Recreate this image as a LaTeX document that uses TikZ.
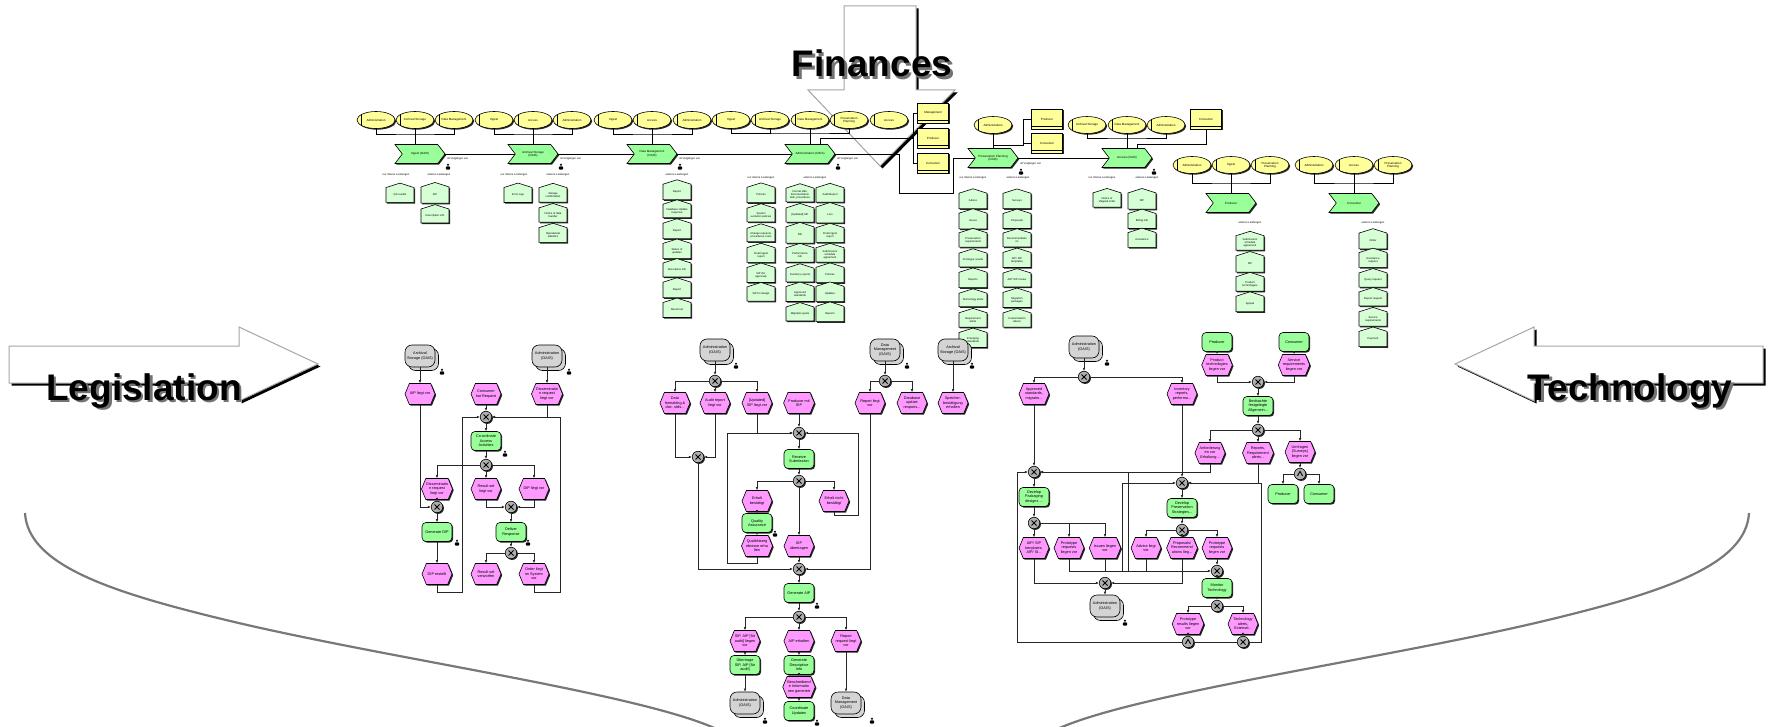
\documentclass[tikz,border=0pt]{standalone}
\usepackage{fontspec}
\setmainfont{Liberation Sans}
\usetikzlibrary{shapes.geometric,shapes.symbols,shadows,arrows.meta,calc}
\definecolor{ouY}{RGB}{255,255,153}
\definecolor{vcG}{RGB}{153,255,153}
\definecolor{outG}{RGB}{214,255,214}
\definecolor{evP}{RGB}{255,153,255}
\definecolor{orgG}{RGB}{212,212,212}
\definecolor{xorG}{RGB}{175,175,175}
\definecolor{arG}{RGB}{165,165,165}
\definecolor{crv}{RGB}{120,120,120}
\newcommand\fva{\fontsize{3}{3.5}\selectfont}
\newcommand\fvb{\fontsize{2.7}{3.1}\selectfont}
\newcommand\fep{\fontsize{3.8}{4.4}\selectfont}
\newcommand\fti{\fontsize{37}{40}\selectfont\bfseries}
\tikzset{
  sh/.style={drop shadow={shadow xshift=1.2pt,shadow yshift=-1.2pt,fill=black,opacity=0.85}},
  ou/.style={ellipse,draw,line width=0.6pt,fill=ouY,sh,minimum width=38pt,minimum height=17pt,inner sep=0pt,font=\fva,align=center,
    path picture={\draw[line width=0.5pt] ([xshift=4.5pt]path picture bounding box.north west) -- ([xshift=4.5pt]path picture bounding box.south west);}},
  vc/.style={signal,signal to=east,signal from=west,signal pointer angle=105,draw,line width=0.6pt,fill=vcG,sh,minimum width=50pt,minimum height=19pt,inner sep=0.5pt,font=\fva,align=center},
  ybox/.style={rectangle,draw,line width=0.6pt,fill=ouY,sh,minimum width=31pt,minimum height=20pt,inner sep=0.5pt,font=\fva,align=center,
    path picture={\draw[line width=0.5pt] ([yshift=2.5pt]path picture bounding box.south west) -- ([yshift=2.5pt]path picture bounding box.south east);}},
  outb/.style={signal,signal to=north,signal pointer angle=145,draw,line width=0.6pt,fill=outG,sh,minimum width=28pt,minimum height=17pt,inner sep=0.4pt,font=\fvb,align=center},
  lab/.style={font=\fvb,inner sep=0pt},
  ev/.style={signal,signal to=east and west,signal pointer angle=135,draw,line width=0.6pt,fill=evP,sh,minimum width=30pt,minimum height=21pt,inner sep=0.3pt,font=\fep,align=center},
  fn/.style={rectangle,rounded corners=4pt,draw,line width=0.6pt,fill=vcG,sh,minimum width=30pt,minimum height=19pt,inner sep=0.3pt,font=\fep,align=center},
  org/.style={rectangle,rounded corners=7pt,draw,line width=0.6pt,fill=orgG,copy shadow={shadow xshift=3.5pt,shadow yshift=-3.5pt,draw=black,fill=orgG,line width=0.6pt},minimum width=30pt,minimum height=22pt,inner sep=0.3pt,font=\fep,align=center},
  xor/.style={circle,draw,line width=0.6pt,fill=xorG,sh,minimum size=11.5pt,inner sep=0pt,
    path picture={\draw[line width=0.9pt] ([shift={(-2.5pt,-2.5pt)}]path picture bounding box.center) -- ([shift={(2.5pt,2.5pt)}]path picture bounding box.center) ([shift={(-2.5pt,2.5pt)}]path picture bounding box.center) -- ([shift={(2.5pt,-2.5pt)}]path picture bounding box.center);}},
  andn/.style={circle,draw,line width=0.6pt,fill=xorG,sh,minimum size=11.5pt,inner sep=0pt,
    path picture={\draw[line width=0.9pt] ([shift={(-2.6pt,-2pt)}]path picture bounding box.center) -- ([shift={(0pt,2.6pt)}]path picture bounding box.center) -- ([shift={(2.6pt,-2pt)}]path picture bounding box.center);}},
  vl/.style={draw=black,line width=0.9pt},
  el/.style={draw=black!85,line width=0.7pt},
  ea/.style={el,-{Latex[length=3pt,width=2.6pt]}},
  pers/.pic={\fill[black] (0,-2.2) circle (1.1pt); \fill[black,rounded corners=0.8pt] (-2.1,2.6) -- (-2.1,-0.6) -- (2.1,-0.6) -- (2.1,2.6) -- cycle;},
}
\begin{document}
\begin{tikzpicture}[x=1pt,y=-1pt]
\useasboundingbox (0,0) rectangle (1769,727);
% ---------- big arrows ----------
\begin{scope}[shift={(2.5,2.5)}]
\fill[black] (9,346) -- (239,346) -- (239,327) -- (318,364) -- (239,401) -- (239,383) -- (9,383) -- cycle;
\fill[black] (1763,346) -- (1534,346) -- (1534,327) -- (1455,364) -- (1534,401) -- (1534,383) -- (1763,383) -- cycle;
\fill[black] (844,6) -- (916,6) -- (916,90) -- (955,90) -- (880,166) -- (808,90) -- (844,90) -- cycle;
\end{scope}
\path[draw=arG,fill=white,line width=1pt] (9,346) -- (239,346) -- (239,327) -- (318,364) -- (239,401) -- (239,383) -- (9,383) -- cycle;
\path[draw=arG,fill=white,line width=1pt] (1763,346) -- (1534,346) -- (1534,327) -- (1455,364) -- (1534,401) -- (1534,383) -- (1763,383) -- cycle;
\path[draw=arG,fill=white,line width=1pt] (844,6) -- (916,6) -- (916,90) -- (955,90) -- (880,166) -- (808,90) -- (844,90) -- cycle;
% ---------- curves ----------
\draw[crv,line width=2.2pt] (25,513) .. controls (28,565) and (110,592) .. (226,620) .. controls (400,662) and (690,700) .. (735,740);
\draw[crv,line width=2.2pt] (1749,513) .. controls (1746,565) and (1664,592) .. (1548,620) .. controls (1374,662) and (1084,700) .. (1039,740);

% ---------- value chain ----------
\node[ou] (e11) at (376,120) {Administration};
\node[ou] (e12) at (415,120) {Archival Storage};
\node[ou] (e13) at (454,120) {Data Management};
\node[ou] (e21) at (494,120) {Ingest};
\node[ou] (e22) at (533,120) {Access};
\node[ou] (e23) at (572,120) {Administration};
\node[ou] (e31) at (613,120) {Ingest};
\node[ou] (e32) at (652,120) {Access};
\node[ou] (e33) at (692,120) {Administration};
\node[ou] (e41) at (731,120) {Ingest};
\node[ou] (e42) at (770,120) {Archival Storage};
\node[ou] (e43) at (810,120) {Data Management};
\node[ou] (e44) at (849,120) {Preservation\\Planning};
\node[ou] (e45) at (889,120) {Access};
\node[ybox] (b41) at (933,113) {Management};
\node[ybox] (b42) at (933,138) {Producer};
\node[ybox] (b43) at (933,163) {Consumer};
\node[ou] (e51) at (993,125) {Administration};
\node[ybox] (b51) at (1047,119) {Producer};
\node[ybox] (b52) at (1047,143) {Consumer};
\node[ou] (e61) at (1087,125) {Archival Storage};
\node[ou] (e62) at (1127,125) {Data Management};
\node[ou] (e63) at (1166,125) {Administration};
\node[ybox] (b61) at (1206,119) {Consumer};
\node[ou] (e71) at (1192,165) {Administration};
\node[ou] (e72) at (1231,165) {Ingest};
\node[ou] (e73) at (1270,165) {Preservation\\Planning};
\node[ou] (e81) at (1314,165) {Administration};
\node[ou] (e82) at (1354,165) {Access};
\node[ou] (e83) at (1393,165) {Preservation\\Planning};

\node[vc] (f1) at (420,154) {Ingest (OAIS)};
\node[vc] (f2) at (533,154) {Archival Storage\\(OAIS)};
\node[vc] (f3) at (652,154) {Data Management\\(OAIS)};
\node[vc] (f4) at (810,154) {Administration (OAIS)};
\node[vc] (f5) at (993,158) {Preservation Planning\\(OAIS)};
\node[vc] (f6) at (1127,158) {Access (OAIS)};
\node[vc] (f7) at (1231,203) {Producer};
\node[vc] (f8) at (1354,203) {Consumer};

\coordinate (g1b) at (415,134);
\coordinate (g2b) at (533,134);
\coordinate (g3b) at (652,134);
\coordinate (g4b) at (810,133);
\coordinate (g6b) at (1127,138);
\coordinate (g7b) at (1231,183);
\coordinate (g8b) at (1354,183);
\draw[vl] (e11.south) |- (g1b) -| (e13.south);
\draw[vl] (e12.south) -- (e12.south |- f1.north);
\draw[vl] (e21.south) |- (g2b) -| (e23.south);
\draw[vl] (e22.south) -- (f2.north);
\draw[vl] (e31.south) |- (g3b) -| (e33.south);
\draw[vl] (e32.south) -- (f3.north);
\draw[vl] (e41.south) |- (g4b) -| (e44.south);
\draw[vl] (e42.south) -- (e42.south |- g4b);
\draw[vl] (e43.south) -- (f4.north);
\draw[vl] ([xshift=10pt]f4.north) |- (913,138);
\draw[vl] (b41.west) -- (913,113) -- (913,163) -- (b43.west);
\draw[vl] (e51.south) -- (f5.north);
\draw[vl] (993,145) -- (1023,145) |- (b51.west);
\draw[vl] (1023,143) -- (b52.west);
\draw[vl] (e61.south) |- (g6b) -| (e63.south);
\draw[vl] (e62.south) -- (f6.north);
\draw[vl] (b61.south) |- (1137,144) -- (1137,148.5);
\draw[vl] (e71.south) |- (g7b) -| (e73.south);
\draw[vl] (e72.south) -- (f7.north);
\draw[vl] (e81.south) |- (g8b) -| (e83.south);
\draw[vl] (e82.south) -- (f8.north);
\draw[vl] (f1.east) -- (f2.west);
\draw[vl] (f2.east) -- (f3.west);
\draw[vl] (f3.east) -- (f4.west);
\draw[vl] (f4.east) -- (899,154) -- (899,193) -- (953,193) -- (953,158) -- (f5.west);
\draw[vl] (f5.east) -- (f6.west);

\node[lab,anchor=west] (p1) at (447,158.5) {ist Vorgänger von};
\node[lab,anchor=west] (p2) at (560,158.5) {ist Vorgänger von};
\node[lab,anchor=west] (p3) at (679,158.5) {ist Vorgänger von};
\node[lab,anchor=west] (p4) at (837,158.5) {ist Vorgänger von};
\node[lab,anchor=west] (p5) at (1020,163.5) {ist Vorgänger von};
\pic at (448,167) {pers};
\pic at (561,167) {pers};
\pic at (680,167) {pers};
\pic at (838,167) {pers};
\pic at (1021,172) {pers};
\pic at (1154,172) {pers};

\node[lab] (l1a) at (396,175) {nur interne Leistungen};
\node[lab] (l1b) at (439,175) {externe Leistungen};
\node[lab] (l2a) at (514,175) {nur interne Leistungen};
\node[lab] (l2b) at (558,175) {externe Leistungen};
\node[lab] (l3b) at (677,175) {externe Leistungen};
\node[lab] (l4a) at (761,178) {nur interne Leistungen};
\node[lab] (l4b) at (815,178) {externe Leistungen};
\node[lab] (l5a) at (973,178) {nur interne Leistungen};
\node[lab] (l5b) at (1018,178) {externe Leistungen};
\node[lab] (l6a) at (1102,178) {nur interne Leistungen};
\node[lab] (l6b) at (1147,178) {externe Leistungen};
\node[lab] (l7b) at (1250,223) {externe Leistungen};
\node[lab] (l8b) at (1373,223) {externe Leistungen};

% outputs
\node[outb] (q11) at (400,195) {QA results};
\node[outb] (q12) at (435,195) {AIP};
\node[outb] (q13) at (435,216) {Description info};
\node[outb] (q21) at (518,195) {Error logs};
\node[outb] (q22) at (553,195) {Storage\\confirmation};
\node[outb] (q23) at (553,215) {Notice of data\\transfer};
\node[outb] (q24) at (553,235) {Operational\\statistics};
\node[outb] (q31) at (677,192) {Report};
\node[outb] (q32) at (677,211) {Database Update\\response};
\node[outb] (q33) at (677,231) {Report};
\node[outb] (q34) at (677,251) {Status of\\updates};
\node[outb] (q35) at (677,270) {Descriptive info};
\node[outb] (q36) at (677,290) {Report};
\node[outb] (q37) at (677,310) {Result set};
\node[outb] (q41) at (761,195) {Policies};
\node[outb] (q42) at (761,215) {System\\evolution policies};
\node[outb] (q43) at (761,235) {Change requests,\\procedures, tools};
\node[outb] (q44) at (761,255) {Final Ingest\\report};
\node[outb] (q45) at (761,275) {SIP (for\\approval)};
\node[outb] (q46) at (761,294) {SIP for design};
\node[outb] (q4a1) at (800,195) {Format stds,\\Documentation\\stds, procedures};
\node[outb] (q4a2) at (800,215) {[Updated] SIP};
\node[outb] (q4a3) at (800,235) {Bill};
\node[outb] (q4a4) at (800,255) {Performance\\info};
\node[outb] (q4a5) at (800,275) {Inventory reports};
\node[outb] (q4a6) at (800,294) {Approved\\standards};
\node[outb] (q4a7) at (800,314) {Migration goals};
\node[outb] (q4b1) at (830,195) {Audit Report};
\node[outb] (q4b2) at (830,215) {Lien};
\node[outb] (q4b3) at (830,235) {Final Ingest\\report};
\node[outb] (q4b4) at (830,255) {Submission/\\schedule\\agreement};
\node[outb] (q4b5) at (830,275) {Policies};
\node[outb] (q4b6) at (830,294) {Updates};
\node[outb] (q4b7) at (830,314) {Reports};
\node[outb] (q51) at (973,201) {Advice};
\node[outb] (q52) at (973,221) {Issues};
\node[outb] (q53) at (973,240) {Preservation\\requirements};
\node[outb] (q54) at (973,260) {Prototype results};
\node[outb] (q55) at (973,280) {Reports};
\node[outb] (q56) at (973,300) {Technology alerts};
\node[outb] (q57) at (973,320) {Requirement\\alerts};
\node[outb] (q58) at (973,340) {Emerging\\standards};
\node[outb] (q5b1) at (1017,201) {Surveys};
\node[outb] (q5b2) at (1017,221) {Proposals};
\node[outb] (q5b3) at (1017,240) {Recommendatio\\ns};
\node[outb] (q5b4) at (1017,260) {AIP/ SIP\\templates};
\node[outb] (q5b5) at (1017,280) {AIP/ SIP review};
\node[outb] (q5b6) at (1017,300) {Migration\\packages};
\node[outb] (q5b7) at (1017,320) {Customization\\advice};
\node[outb] (q61) at (1107,200) {Notice of\\shipped order};
\node[outb] (q62) at (1142,201) {DIP};
\node[outb] (q63) at (1142,221) {Billing info};
\node[outb] (q64) at (1142,240) {Assistance};
\node[outb] (q71) at (1250,243) {Submission/\\schedule\\agreement};
\node[outb] (q72) at (1250,264) {SIP};
\node[outb] (q73) at (1250,284) {Product\\technologies};
\node[outb] (q74) at (1250,304) {Appeal};
\node[outb] (q81) at (1373,241) {Order};
\node[outb] (q82) at (1373,260) {Assistance\\request};
\node[outb] (q83) at (1373,280) {Query request};
\node[outb] (q84) at (1373,299) {Report request};
\node[outb] (q85) at (1373,319) {Service\\requirements};
\node[outb] (q86) at (1373,339) {Payment};

% ---------- EPC 1 ----------
\node[org] (o11) at (420,356) {Archival\\Storage (OAIS)};
\node[org] (o12) at (547,356) {Administration\\(OAIS)};
\node[ev] (ev11) at (420,394) {AIP liegt vor};
\node[ev] (ev12) at (486,394) {Consumer\\hat Request};
\node[ev] (ev13) at (547,394) {Disseminatio\\n request\\liegt vor};
\node[xor] (x11) at (486,417) {};
\node[fn] (fn11) at (486,441) {Co-ordinate\\Access\\Activities};
\node[xor] (x12) at (486,465) {};
\node[ev] (ev14) at (437,489) {Disseminatio\\n request\\liegt vor};
\node[ev] (ev15) at (486,489) {Result set\\liegt vor};
\node[ev] (ev16) at (534,489) {DIP liegt vor};
\node[xor] (x13) at (437,507) {};
\node[xor] (x14) at (511,507) {};
\node[fn] (fn12) at (437,532) {Generate DIP};
\node[fn] (fn13) at (511,532) {Deliver\\Response};
\node[xor] (x15) at (511,553) {};
\node[ev] (ev17) at (437,574) {DIP erstellt};
\node[ev] (ev18) at (486,574) {Result set\\verworfen};
\node[ev] (ev19) at (534,574) {Order liegt\\im System\\vor};
\draw[ea] (o11.south) -- (ev11.north);
\draw[ea] (o12.south) -- (ev13.north);
\draw[ea] (ev11.south) |- (x13.west);
\draw[ea] (ev12.south) -- (x11.north);
\draw[ea] (ev13.south) |- (x11.east);
\draw[ea] (x11.south) -- (fn11.north);
\draw[ea] (fn11.south) -- (x12.north);
\draw[ea] (x12.west) -| (ev14.north);
\draw[ea] (x12.south) -- (ev15.north);
\draw[ea] (x12.east) -| (ev16.north);
\draw[ea] (ev14.south) -- (x13.north);
\draw[ea] (x13.south) -- (fn12.north);
\draw[ea] (fn12.south) -- (ev17.north);
\draw[ea] (ev15.south) |- (x14.west);
\draw[ea] (ev16.south) |- (x14.east);
\draw[ea] (x14.south) -- (fn13.north);
\draw[ea] (fn13.south) -- (x15.north);
\draw[ea] (x15.west) -| (ev18.north);
\draw[ea] (x15.east) -| (ev19.north);
\draw[ea] (ev17.south) -- (437,592) -- (462,592) |- (x11.west);
\draw[ea] (ev19.south) -- (534,592) -- (560,592) |- (x11.east);
\pic at (442,372) {pers};
\pic at (569,372) {pers};
\pic at (505,454) {pers};
\pic at (457,543) {pers};
\pic at (528,543) {pers};

% ---------- EPC 2 ----------
\node[org] (o21) at (715,350) {Administration\\(OAIS)};
\node[xor] (x21) at (715,381) {};
\node[ev] (ev21) at (675,403) {Data\\formatting \&\\doc. stds...};
\node[ev] (ev22) at (715,403) {Audit report\\liegt vor};
\node[ev] (ev23) at (757,403) {[Updated]\\SIP liegt vor};
\node[ev] (ev24) at (799,403) {Producer mit\\SIP};
\node[xor] (x22) at (698,457) {};
\node[xor] (x23) at (799,433) {};
\node[fn] (fn21) at (799,459) {Receive\\Submission};
\node[xor] (x24) at (799,481) {};
\node[ev] (ev25) at (757,501) {Erhalt\\bestätigt};
\node[ev] (ev26) at (834,501) {Erhalt nicht\\bestätigt};
\node[fn] (fn22) at (757,523) {Quality\\Assurance};
\node[ev] (ev27) at (757,546) {Qualitätserg\\ebnisse erha\\lten};
\node[ev] (ev28) at (799,546) {SIP\\übertragen};
\node[xor] (x25) at (799,569) {};
\node[fn] (fn23) at (799,593) {Generate AIP};
\node[xor] (x26) at (799,617) {};
\node[ev] (ev29) at (745,641) {SIP, AIP [für\\audit] liegen\\vor};
\node[ev] (ev2a) at (799,641) {AIP erhalten};
\node[ev] (ev2b) at (846,641) {Report\\request liegt\\vor};
\node[fn] (fn24) at (745,665) {Übertrage\\SIP, AIP [für\\audit]};
\node[fn] (fn25) at (799,665) {Generate\\Descriptive\\Info};
\node[ev] (ev2c) at (799,687) {Beschreibend\\e Informatio\\nen generiert};
\node[fn] (fn26) at (799,711) {Coordinate\\Updates};
\node[org] (o22) at (745,703) {Administration\\(OAIS)};
\node[org] (o23) at (846,703) {Data\\Management\\(OAIS)};
\node[org] (o24) at (885,350) {Data\\Management\\(OAIS)};
\node[xor] (x27) at (885,381) {};
\node[ev] (ev2d) at (870,403) {Report liegt\\vor};
\node[ev] (ev2e) at (912,403) {Database\\update\\respons...};
\node[org] (o25) at (953,350) {Archival\\Storage (OAIS)};
\node[ev] (ev2f) at (953,403) {Speicher-\\bestätigung\\erhalten};
\draw[ea] (o21.south) -- (x21.north);
\draw[ea] (x21.west) -| (ev21.north);
\draw[ea] (x21.south) -- (ev22.north);
\draw[ea] (x21.east) -| (ev23.north);
\draw[ea] (ev21.south) |- (x22.west);
\draw[ea] (ev22.south) |- (x22.east);
\draw[ea] (x22.south) |- (x25.west);
\draw[ea] (ev23.south) |- (x23.west);
\draw[ea] (ev24.south) -- (x23.north);
\draw[ea] (ev27.south) -- (757,563) -- (727,563) |- (x23.west);
\draw[ea] (ev26.south) -- (834,515) -- (858,515) |- (x23.east);
\draw[ea] (x23.south) -- (fn21.north);
\draw[ea] (fn21.south) -- (x24.north);
\draw[ea] (x24.west) -| (ev25.north);
\draw[ea] (x24.south) -- (ev28.north);
\draw[ea] (x24.east) -| (ev26.north);
\draw[ea] (ev25.south) -- (fn22.north);
\draw[ea] (fn22.south) -- (ev27.north);
\draw[ea] (ev28.south) -- (x25.north);
\draw[ea] (ev2d.south) |- (x25.east);
\draw[ea] (x25.south) -- (fn23.north);
\draw[ea] (fn23.south) -- (x26.north);
\draw[ea] (x26.west) -| (ev29.north);
\draw[ea] (x26.south) -- (ev2a.north);
\draw[ea] (x26.east) -| (ev2b.north);
\draw[ea] (ev29.south) -- (fn24.north);
\draw[ea] (fn24.south) -- (o22.north);
\draw[ea] (ev2a.south) -- (fn25.north);
\draw[ea] (fn25.south) -- (ev2c.north);
\draw[ea] (ev2c.south) -- (fn26.north);
\draw[ea] (ev2b.south) -- (o23.north);
\draw[ea] (o24.south) -- (x27.north);
\draw[ea] (x27.west) -| (ev2d.north);
\draw[ea] (x27.east) -| (ev2e.north);
\draw[ea] (o25.south) -- (ev2f.north);
\pic at (736,366) {pers};
\pic at (775,534) {pers};
\pic at (817,606) {pers};
\pic at (817,723) {pers};
\pic at (765,721) {pers};
\pic at (872,721) {pers};
\pic at (907,366) {pers};
\pic at (972,366) {pers};

% ---------- EPC 3 ----------
\node[org] (o31) at (1084,347) {Administration\\(OAIS)};
\node[xor] (x31) at (1084,377) {};
\node[ev] (ev31) at (1034,394) {Approved\\standards,\\migratio...};
\node[ev] (ev32) at (1182,394) {Inventory\\reports,\\performa...};
\node[xor] (x32) at (1034,472) {};
\node[fn] (fn31) at (1034,497) {Develop\\Packaging\\designs ...};
\node[xor] (x33) at (1034,523) {};
\node[ev] (ev33) at (1034,548) {AIP/ SIP\\templates,\\AIP/ SI...};
\node[ev] (ev34) at (1069,548) {Prototype\\requests\\liegen vor};
\node[ev] (ev35) at (1105,548) {Issues liegen\\vor};
\node[ev] (ev36) at (1146,548) {Advice liegt\\vor};
\node[ev] (ev37) at (1182,548) {Proposals/\\Recommend\\ations lieg...};
\node[ev] (ev38) at (1217,548) {Prototype\\requests\\liegen vor};
\node[xor] (x34) at (1105,583) {};
\node[org] (o32) at (1105,606) {Administration\\(OAIS)};
\node[xor] (x35) at (1182,483) {};
\node[fn] (fn32) at (1182,508) {Develop\\Preservation\\Strategies...};
\node[xor] (x36) at (1182,530) {};
\node[xor] (x37) at (1217,571) {};
\node[fn] (fn33) at (1217,588) {Monitor\\Technology};
\node[xor] (x38) at (1217,606) {};
\node[ev] (ev39) at (1188,624) {Prototype\\results liegen\\vor};
\node[ev] (ev3a) at (1243,624) {Technology\\alerts,\\External...};
\node[andn] (a31) at (1188,642) {};
\node[xor] (x39) at (1243,642) {};
\node[fn] (fn34) at (1217,342) {Producer};
\node[fn] (fn35) at (1294,342) {Consumer};
\node[ev] (ev3b) at (1217,365) {Product\\technologies\\liegen vor};
\node[ev] (ev3c) at (1294,365) {Service\\requirements\\liegen vor};
\node[xor] (x3a) at (1258,382) {};
\node[fn] (fn36) at (1258,406) {Beobachte\\festgelegte\\Allgemein...};
\node[xor] (x3b) at (1258,430) {};
\node[ev] (ev3d) at (1210,453) {Anforderung\\en zur\\Erhaltung...};
\node[ev] (ev3e) at (1258,453) {Reports,\\Requirement\\alerts...};
\node[ev] (ev3f) at (1300,452) {Umfragen\\(Surveys)\\liegen vor};
\node[andn] (a32) at (1300,474) {};
\node[fn] (fn37) at (1283,494) {Producer};
\node[fn] (fn38) at (1319,494) {Consumer};
\draw[ea] (o31.south) -- (x31.north);
\draw[ea] (x31.west) -| (ev31.north);
\draw[ea] (x31.east) -| (ev32.north);
\draw[ea] (ev31.south) -- (x32.north);
\draw[ea] (ev32.south) -- (x35.north);
\draw[ea] (x32.south) -- (fn31.north);
\draw[ea] (fn31.south) -- (x33.north);
\draw[ea] (x33.south) -- (ev33.north);
\draw[ea] (x33.east) -| (ev34.north);
\draw[ea] (x33.east) -| (ev35.north);
\draw[ea] (ev33.south) |- (x34.west);
\draw[ea] (ev37.south) |- (x34.east);
\draw[ea] (x34.south) -- (o32.north);
\draw[ea] (x35.south) -- (fn32.north);
\draw[ea] (fn32.south) -- (x36.north);
\draw[ea] (x36.west) -| (ev36.north);
\draw[ea] (x36.south) -- (ev37.north);
\draw[ea] (x36.east) -| (ev38.north);
\draw[ea] (ev34.south) |- (x37.west);
\draw[el] (ev35.south) -- (ev35.south |- x37.west);
\draw[el] (ev36.south) -- (ev36.south |- x37.west);
\draw[ea] (ev38.south) -- (x37.north);
\draw[ea] (1128,571) |- (x32.east);
\draw[ea] (1122,571) |- (x35.west);
\draw[ea] (x37.south) -- (fn33.north);
\draw[ea] (fn33.south) -- (x38.north);
\draw[ea] (x38.west) -| (ev39.north);
\draw[ea] (x38.east) -| (ev3a.north);
\draw[ea] (ev39.south) -- (a31.north);
\draw[ea] (ev3a.south) -- (x39.north);
\draw[ea] (a31.west) -- (1017,642) |- (x32.west);
\draw[el] (a31.east) -- (x39.west);
\draw[ea] (x39.east) -- (1261,642) |- (x35.east);
\draw[ea] (fn34.south) -- (ev3b.north);
\draw[ea] (fn35.south) -- (ev3c.north);
\draw[ea] (ev3b.south) |- (x3a.west);
\draw[ea] (ev3c.south) |- (x3a.east);
\draw[ea] (x3a.south) -- (fn36.north);
\draw[ea] (fn36.south) -- (x3b.north);
\draw[ea] (x3b.west) -| (ev3d.north);
\draw[ea] (x3b.south) -- (ev3e.north);
\draw[ea] (x3b.east) -| (ev3f.north);
\draw[ea] (ev3d.south) |- (x32.east);
\draw[ea] (ev3e.south) |- (x35.east);
\draw[ea] (ev3f.south) -- (a32.north);
\draw[ea] (a32.west) -| (fn37.north);
\draw[ea] (a32.east) -| (fn38.north);
\pic at (1107,363) {pers};
\pic at (1125,623) {pers};

% ---------- titles ----------
\node[font=\fti,text=black!55,anchor=base,inner sep=0pt] (tfs) at (874.5,79.5) {Finances};
\node[font=\fti,anchor=base,inner sep=0pt] (tf) at (872,77) {Finances};
\node[font=\fti,text=black!55,anchor=base,inner sep=0pt] (tls) at (146.5,402.5) {Legislation};
\node[font=\fti,anchor=base,inner sep=0pt] (tl) at (144,400) {Legislation};
\node[font=\fti,text=black!55,anchor=base,inner sep=0pt] (tts) at (1632.5,402.5) {Technology};
\node[font=\fti,anchor=base,inner sep=0pt] (tt) at (1630,400) {Technology};
\end{tikzpicture}
\end{document}
